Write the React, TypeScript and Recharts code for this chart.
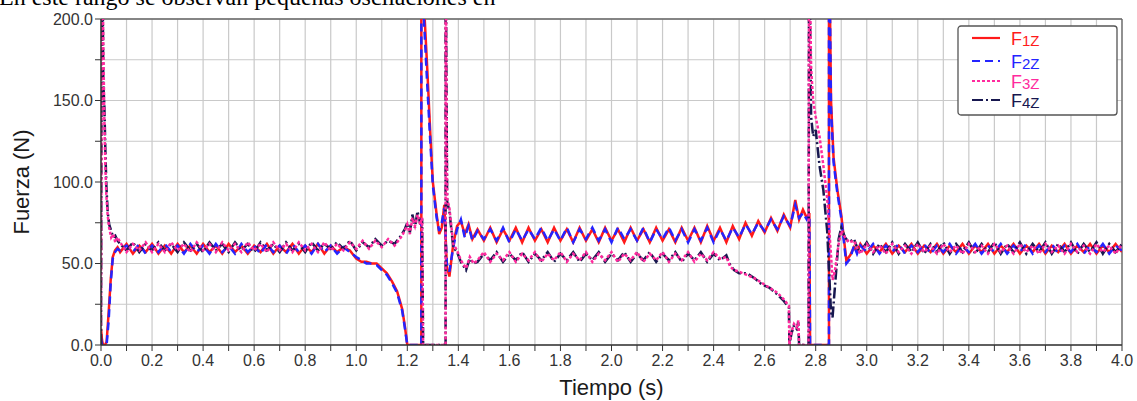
import React from "react";
import {
  LineChart,
  Line,
  XAxis,
  YAxis,
  CartesianGrid,
  ReferenceLine,
} from "recharts";

// time axis for F1z / F2z (s)
const tA = [
  0, 0.004, 0.008, 0.015, 0.022, 0.03, 0.038, 0.046, 0.055, 0.065,
  0.075, 0.1, 0.125, 0.15, 0.175, 0.2, 0.225, 0.25, 0.275, 0.3,
  0.325, 0.35, 0.375, 0.4, 0.425, 0.45, 0.475, 0.5, 0.525, 0.55,
  0.575, 0.6, 0.625, 0.65, 0.675, 0.7, 0.725, 0.75, 0.775, 0.8,
  0.825, 0.85, 0.875, 0.9, 0.925, 0.95, 0.975,
  1.0, 1.02, 1.04, 1.06, 1.08, 1.1, 1.12, 1.14, 1.16, 1.18, 1.19, 1.2,
  1.255, 1.255, 1.265, 1.278, 1.29, 1.3, 1.315, 1.325, 1.335, 1.345,
  1.355, 1.365, 1.38, 1.395, 1.41, 1.425, 1.44, 1.455,
  1.475, 1.5, 1.525, 1.55, 1.575, 1.6, 1.625, 1.65, 1.675, 1.7,
  1.725, 1.75, 1.775, 1.8, 1.825, 1.85, 1.875, 1.9, 1.925, 1.95,
  1.975, 2.0, 2.025, 2.05, 2.075, 2.1, 2.125, 2.15, 2.175, 2.2,
  2.225, 2.25, 2.275, 2.3, 2.325, 2.35, 2.375, 2.4,
  2.425, 2.45, 2.475, 2.5, 2.525, 2.55, 2.575, 2.6, 2.625, 2.65,
  2.675, 2.7, 2.72, 2.735, 2.75, 2.765, 2.775,
  2.778, 2.852, 2.852, 2.86, 2.87, 2.885, 2.9, 2.91, 2.92, 2.935, 2.95, 2.962,
  2.975, 3.0, 3.025, 3.05, 3.075, 3.1, 3.125, 3.15, 3.175, 3.2,
  3.225, 3.25, 3.275, 3.3, 3.325, 3.35, 3.375, 3.4, 3.425, 3.45,
  3.475, 3.5, 3.525, 3.55, 3.575, 3.6, 3.625, 3.65, 3.675, 3.7,
  3.725, 3.75, 3.775, 3.8, 3.825, 3.85, 3.875, 3.9, 3.925, 3.95,
  3.975, 4.0,
];

const f1z = [
  10, 3, 0, 0, 2, 20, 40, 54, 58, 60,
  57, 62, 56, 61, 57, 62, 56, 61, 56, 62,
  57, 61, 56, 62, 57, 61, 56, 62, 57, 61,
  56, 61, 57, 62, 56, 61, 57, 62, 56, 61,
  57, 62, 56, 61, 57, 60, 58,
  53, 51, 51, 50, 50, 47, 44, 39, 33, 22, 12, 0,
  0, 260, 210, 170, 130, 100, 80, 68, 72, 86,
  48, 42, 62, 73, 76, 68, 74, 65,
  71, 64, 72, 63, 71, 64, 72, 63, 72, 64,
  71, 63, 72, 64, 71, 63, 72, 64, 71, 63,
  72, 64, 71, 63, 72, 64, 71, 63, 72, 64,
  71, 63, 72, 64, 72, 63, 73, 64,
  72, 63, 73, 65, 75, 67, 76, 69, 78, 70,
  80, 72, 89, 77, 83, 78, 81,
  0, 0, 260, 150, 115, 95, 80, 66, 52, 55, 60, 57,
  62, 56, 61, 57, 62, 56, 61, 57, 62, 56,
  61, 57, 62, 56, 61, 57, 62, 56, 61, 57,
  62, 56, 61, 57, 62, 56, 61, 57, 62, 56,
  61, 57, 62, 56, 61, 57, 62, 56, 61, 57,
  62, 57,
];

const f2z = [
  4, 0, 0, 0, 0, 15, 38, 53, 57, 59,
  58, 61, 57, 62, 56, 61, 57, 62, 57, 61,
  56, 62, 57, 61, 56, 62, 57, 61, 56, 62,
  57, 61, 56, 62, 57, 61, 56, 62, 57, 61,
  56, 62, 57, 61, 56, 60, 57,
  54, 52, 50, 50, 49, 46, 43, 38, 32, 21, 11, 0,
  0, 260, 200, 160, 125, 98, 78, 70, 75, 84,
  50, 45, 60, 71, 77, 66, 73, 64,
  70, 65, 71, 64, 72, 63, 71, 64, 71, 65,
  72, 64, 71, 64, 72, 63, 71, 65, 72, 64,
  71, 63, 72, 65, 71, 64, 72, 63, 71, 65,
  72, 64, 71, 63, 71, 64, 72, 63,
  71, 64, 72, 66, 74, 68, 75, 70, 77, 71,
  79, 73, 86, 78, 81, 77, 80,
  0, 0, 260, 145, 112, 93, 78, 64, 50, 53, 61, 56,
  61, 57, 62, 56, 61, 57, 62, 56, 61, 57,
  62, 56, 61, 57, 62, 56, 61, 57, 62, 56,
  61, 57, 62, 56, 61, 57, 62, 56, 61, 57,
  62, 56, 61, 57, 62, 56, 61, 57, 62, 56,
  61, 58,
];

// time axis for F3z / F4z (s)
const tB = [
  0, 0.002, 0.005, 0.009, 0.013, 0.017, 0.021, 0.026, 0.032, 0.04,
  0.048, 0.056, 0.065,
  0.075, 0.1, 0.125, 0.15, 0.175, 0.2, 0.225, 0.25, 0.275, 0.3,
  0.325, 0.35, 0.375, 0.4, 0.425, 0.45, 0.475, 0.5, 0.525, 0.55,
  0.575, 0.6, 0.625, 0.65, 0.675, 0.7, 0.725, 0.75, 0.775, 0.8,
  0.825, 0.85, 0.875, 0.9, 0.925, 0.95, 0.975, 1.0, 1.025, 1.05,
  1.075, 1.1, 1.125, 1.15, 1.175,
  1.19, 1.2, 1.21, 1.22, 1.23, 1.24, 1.25, 1.258, 1.262, 1.35,
  1.35, 1.356, 1.365, 1.38, 1.395, 1.41, 1.43, 1.445, 1.46,
  1.475, 1.5, 1.525, 1.55, 1.575, 1.6, 1.625, 1.65, 1.675, 1.7,
  1.725, 1.75, 1.775, 1.8, 1.825, 1.85, 1.875, 1.9, 1.925, 1.95,
  1.975, 2.0, 2.025, 2.05, 2.075, 2.1, 2.125, 2.15, 2.175, 2.2,
  2.225, 2.25, 2.275, 2.3, 2.325, 2.35, 2.375, 2.4,
  2.425, 2.45, 2.465, 2.48, 2.5, 2.53, 2.56, 2.59, 2.62, 2.65,
  2.675, 2.695, 2.697, 2.705, 2.715, 2.725, 2.732, 2.735, 2.772, 2.774,
  2.782, 2.79, 2.8, 2.815, 2.83, 2.845, 2.86, 2.866, 2.875, 2.89,
  2.9, 2.915, 2.93, 2.95, 2.962,
  2.975, 3.0, 3.025, 3.05, 3.075, 3.1, 3.125, 3.15, 3.175, 3.2,
  3.225, 3.25, 3.275, 3.3, 3.325, 3.35, 3.375, 3.4, 3.425, 3.45,
  3.475, 3.5, 3.525, 3.55, 3.575, 3.6, 3.625, 3.65, 3.675, 3.7,
  3.725, 3.75, 3.775, 3.8, 3.825, 3.85, 3.875, 3.9, 3.925, 3.95,
  3.975, 4.0,
];

const f3z = [
  12, 120, 260, 185, 140, 110, 92, 80, 72, 66,
  68, 63, 66,
  63, 57, 62, 58, 63, 57, 62, 57, 63, 58,
  62, 57, 63, 58, 62, 57, 63, 58, 62, 57,
  63, 58, 62, 57, 63, 58, 62, 57, 63, 58,
  62, 57, 63, 58, 62, 58, 63, 59, 64, 59,
  64, 60, 65, 61, 66,
  70, 74, 68, 78, 73, 80, 74, 78, 0, 0,
  260, 90, 84, 62, 58, 52, 47, 54, 50,
  52, 57, 51, 56, 52, 57, 51, 56, 52, 57,
  51, 56, 52, 57, 51, 56, 52, 57, 51, 56,
  52, 57, 51, 56, 52, 57, 51, 56, 52, 57,
  51, 56, 52, 57, 51, 56, 52, 57,
  53, 54, 48, 46, 45, 43, 41, 38, 35, 32,
  28, 24, 0, 8, 13, 11, 15, 0, 0, 260,
  170, 150, 140, 128, 110, 90, 55, 40, 45, 62,
  70, 66, 63, 64, 60,
  56, 62, 57, 61, 56, 62, 57, 61, 56, 62,
  57, 61, 56, 62, 57, 61, 56, 62, 57, 61,
  56, 62, 57, 61, 56, 62, 57, 61, 56, 62,
  57, 61, 56, 62, 57, 61, 56, 62, 57, 61,
  56, 62,
];

const f4z = [
  0, 150, 260, 160, 148, 120, 98, 82, 74, 70,
  66, 67, 64,
  62, 58, 63, 57, 62, 58, 63, 58, 62, 57,
  63, 58, 62, 57, 63, 58, 62, 57, 63, 58,
  62, 57, 63, 58, 62, 57, 63, 58, 62, 57,
  63, 58, 62, 59, 63, 59, 64, 58, 63, 60,
  65, 61, 64, 62, 67,
  71, 75, 69, 80, 72, 82, 75, 76, 0, 0,
  260, 88, 82, 60, 57, 51, 46, 53, 50,
  51, 56, 52, 57, 51, 56, 52, 57, 51, 56,
  52, 57, 51, 56, 52, 57, 51, 56, 52, 57,
  51, 56, 52, 57, 51, 56, 52, 57, 51, 56,
  52, 57, 51, 56, 52, 57, 51, 56,
  52, 55, 49, 46, 44, 44, 41, 37, 35, 31,
  27, 23, 0, 7, 12, 10, 14, 0, 0, 260,
  140, 128, 132, 110, 95, 70, 20, 17, 35, 65,
  72, 66, 63, 65, 60,
  57, 63, 56, 62, 57, 63, 56, 62, 57, 63,
  56, 62, 57, 63, 56, 62, 57, 63, 56, 62,
  57, 63, 56, 62, 57, 63, 56, 62, 57, 63,
  56, 62, 57, 63, 56, 62, 57, 63, 56, 62,
  57, 62,
];

const X_TICKS = [
  0, 0.1, 0.2, 0.3, 0.4, 0.5, 0.6, 0.7, 0.8, 0.9,
  1.0, 1.1, 1.2, 1.3, 1.4, 1.5, 1.6, 1.7, 1.8, 1.9,
  2.0, 2.1, 2.2, 2.3, 2.4, 2.5, 2.6, 2.7, 2.8, 2.9,
  3.0, 3.1, 3.2, 3.3, 3.4, 3.5, 3.6, 3.7, 3.8, 3.9, 4.0,
];
const Y_TICKS = [0, 25, 50, 75, 100, 125, 150, 175, 200];

const SERIES = [
  { key: "f1", sub: "1Z", color: "#ff1a1a", dash: undefined, group: "A" },
  { key: "f2", sub: "2Z", color: "#2424ff", dash: "8 5", group: "A" },
  { key: "f3", sub: "3Z", color: "#ff2a9d", dash: "3 2", group: "B" },
  { key: "f4", sub: "4Z", color: "#17174f", dash: "11 3 2 3", group: "B" },
];

const dataA = tA.map((t, i) => ({ t, f1: f1z[i], f2: f2z[i] }));
const dataB = tB.map((t, i) => ({ t, f3: f3z[i], f4: f4z[i] }));

const FONT = "'Liberation Sans', Arial, sans-serif";
const TICK_STYLE = { fontSize: 16, fill: "#333", fontFamily: FONT };

function Legend() {
  const rows = [13, 36, 56, 75];
  return (
    <svg
      width={162}
      height={92}
      style={{ position: "absolute", left: 957, top: 25 }}
    >
      <rect x={1} y={1} width={159} height={89} rx={3} fill="#fff" stroke="#555" strokeWidth={1.3} />
      {SERIES.map((s, i) => (
        <g key={s.key}>
          <line
            x1={15}
            x2={43}
            y1={rows[i]}
            y2={rows[i]}
            stroke={s.color}
            strokeWidth={2.2}
            strokeDasharray={s.dash}
          />
          <text x={54} y={rows[i] + 6.5} fill={s.color} fontFamily={FONT}>
            <tspan fontSize={18}>F</tspan>
            <tspan fontSize={15} dy={1.5}>{s.sub}</tspan>
          </text>
        </g>
      ))}
    </svg>
  );
}

export default function App() {
  // draw order: F1, F2, F4, F3 (pink dots sit on the navy line)
  const order = [SERIES[0], SERIES[1], SERIES[3], SERIES[2]];
  return (
    <div
      style={{
        position: "absolute",
        left: 0,
        top: 0,
        width: 1137,
        height: 401,
        background: "#fff",
        overflow: "hidden",
      }}
    >
      <svg width={1137} height={401} style={{ position: "absolute", left: 0, top: 0 }}>
        <text x={-1} y={5} fontSize={24} fontFamily="'Liberation Serif', 'Times New Roman', serif" fill="#000">
          En este rango se observan pequeñas oscilaciones en
        </text>
        <text
          x={29}
          y={182}
          fontSize={22}
          fontFamily={FONT}
          fill="#1a1a1a"
          textAnchor="middle"
          transform="rotate(-90 29 182)"
        >
          Fuerza (N)
        </text>
        <text x={611.5} y={395} fontSize={22} fontFamily={FONT} fill="#1a1a1a" textAnchor="middle">
          Tiempo (s)
        </text>
      </svg>
      <div style={{ position: "absolute", left: 0, top: 0 }}>
        <LineChart width={1137} height={401} margin={{ top: 19, right: 15, bottom: 26, left: 41 }}>
          <CartesianGrid stroke="#c9c9c9" strokeWidth={1.2} />
          <XAxis
            type="number"
            dataKey="t"
            domain={[0, 4]}
            ticks={X_TICKS}
            interval={0}
            allowDataOverflow
            tickFormatter={(v: number) =>
              Math.round(v * 10) % 2 === 0 ? v.toFixed(1) : ""
            }
            tick={TICK_STYLE}
            tickSize={6}
            tickMargin={4}
            stroke="#333"
            axisLine={{ stroke: "#333", strokeWidth: 1.5 }}
            tickLine={{ stroke: "#333" }}
            height={30}
          />
          <YAxis
            type="number"
            domain={[0, 200]}
            ticks={Y_TICKS}
            interval={0}
            allowDataOverflow
            tickFormatter={(v: number) => (v % 50 === 0 ? v.toFixed(1) : "")}
            tick={TICK_STYLE}
            tickSize={6}
            tickMargin={2}
            axisLine={{ stroke: "#333", strokeWidth: 1.5 }}
            tickLine={{ stroke: "#333" }}
            width={60}
          />
          <ReferenceLine y={200} stroke="#666" strokeWidth={1.3} />
          <ReferenceLine x={4} stroke="#666" strokeWidth={1.3} />
          {order.map((s) => (
            <Line
              key={s.key}
              data={s.group === "A" ? dataA : dataB}
              dataKey={s.key}
              type="linear"
              stroke={s.color}
              strokeWidth={2.5}
              strokeDasharray={s.dash}
              dot={false}
              activeDot={false}
              isAnimationActive={false}
            />
          ))}
        </LineChart>
      </div>
      <Legend />
    </div>
  );
}
